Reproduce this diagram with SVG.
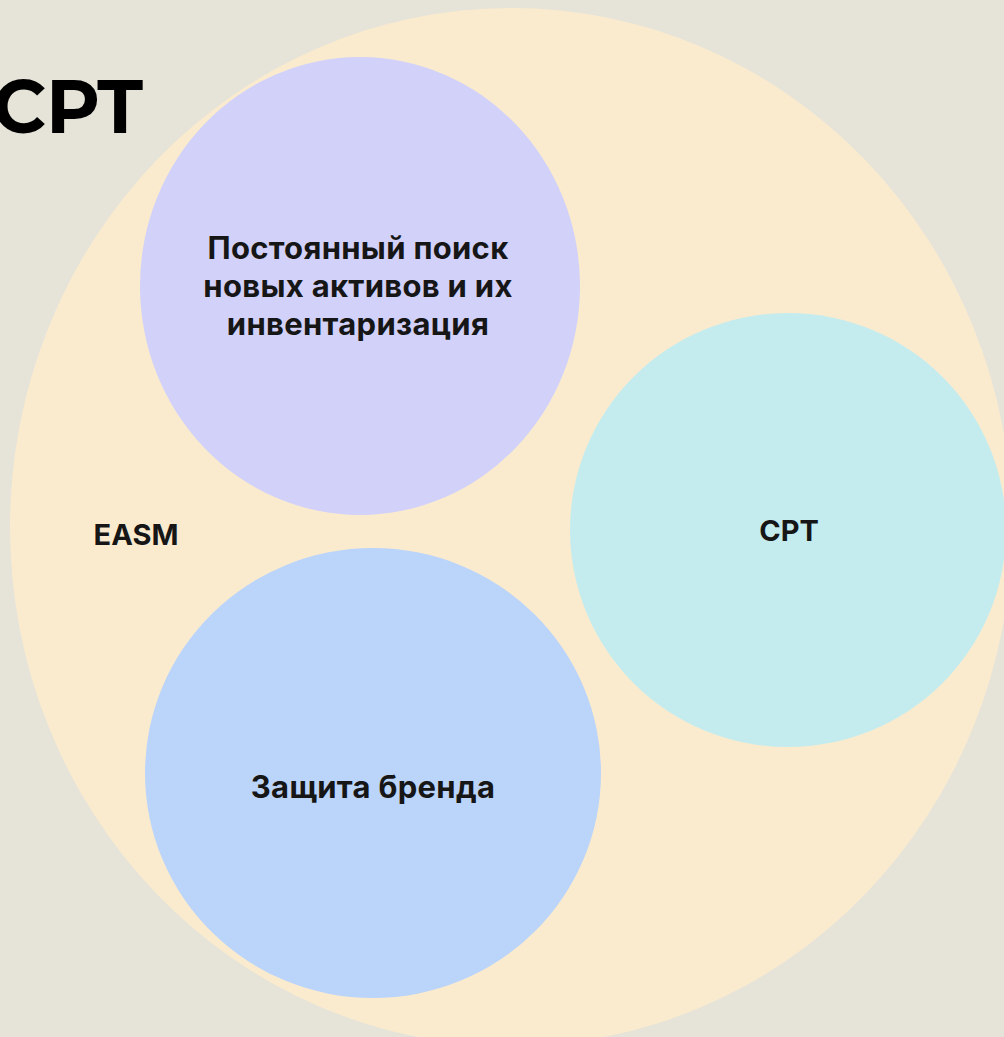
<svg xmlns="http://www.w3.org/2000/svg" width="1004" height="1037" viewBox="0 0 1004 1037">
<style>
.lbl{font-family:Inter,"Noto Sans",sans-serif;font-weight:700;font-size:29px;fill:#161616;text-anchor:middle}
.cyr{font-size:31px;letter-spacing:0.3px}
.title{font-family:"Montserrat",Inter,"Liberation Sans",sans-serif;font-weight:700;font-size:74px;fill:#000;text-anchor:end}
</style>
<rect width="1004" height="1037" fill="#E6E3D8"/>
<text class="title" x="143" y="133">CPT</text>
<g id="easm">
<ellipse cx="511" cy="527" rx="501" ry="519" fill="#FAEBCF"/>
<text class="lbl" x="136" y="545">EASM</text>
</g>
<g id="inventory">
<ellipse cx="360" cy="286" rx="220" ry="229" fill="#D1D1F9"/>
<text class="lbl cyr" x="358" y="259">Постоянный поиск</text>
<text class="lbl cyr" x="358" y="297">новых активов и их</text>
<text class="lbl cyr" x="358" y="335">инвентаризация</text>
</g>
<g id="cpt">
<ellipse cx="788" cy="530" rx="218" ry="217" fill="#C4ECEE"/>
<text class="lbl" x="789" y="541">CPT</text>
</g>
<g id="brand">
<ellipse cx="373" cy="773" rx="228" ry="225" fill="#BBD4FA"/>
<text class="lbl cyr" x="373" y="798">Защита бренда</text>
</g>
<g id="connectors"/>
</svg>
